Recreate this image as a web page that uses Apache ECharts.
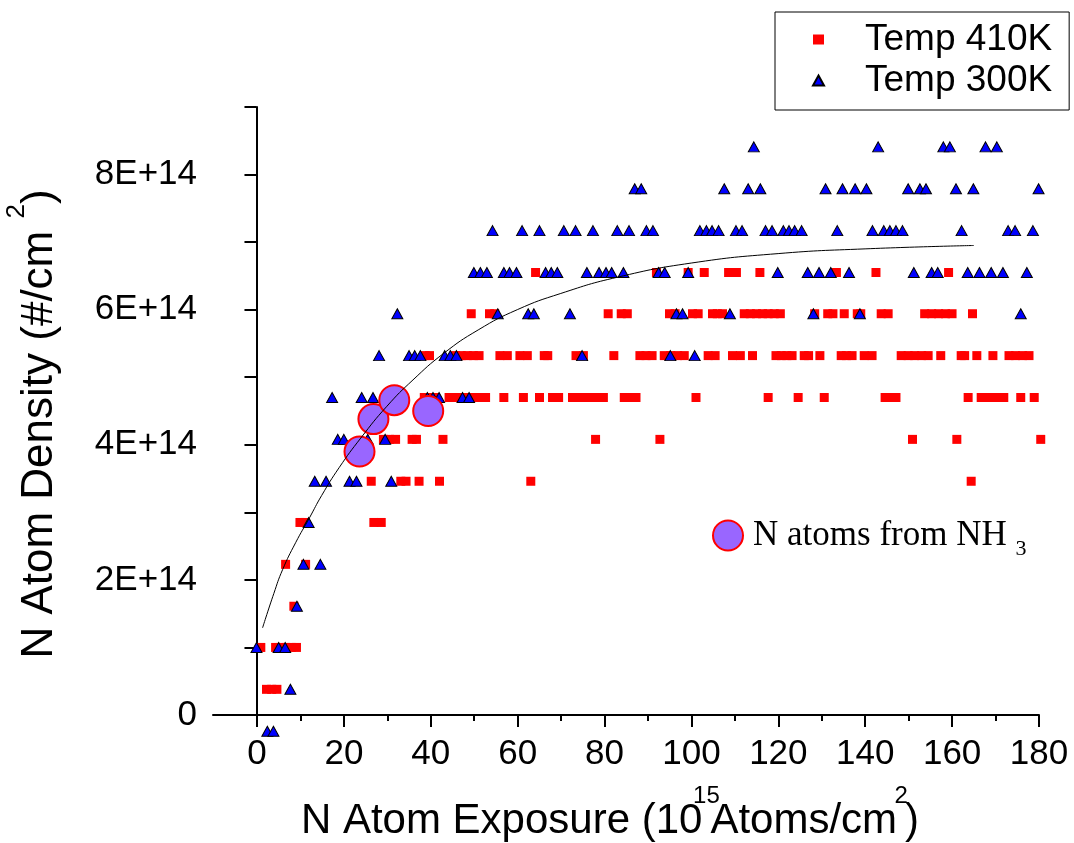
<!DOCTYPE html>
<html>
<head>
<meta charset="utf-8">
<script src="https://cdn.jsdelivr.net/npm/echarts@6/dist/echarts.min.js"></script>
<style>
  html, body { margin: 0; padding: 0; background: #fff; }
  #main { width: 1074px; height: 843px; }
</style>
</head>
<body>
<div id="main"></div>
<script>
// density levels (units of 1E14 #/cm2), the data are quantised on these
var levels = [-0.24, 0.38, 1.00, 1.61, 2.23, 2.85, 3.46, 4.08, 4.70, 5.32, 5.94, 6.55, 7.17, 7.79, 8.41];

// exposure values of the 410K points, one list per level above
var redX = [
    [],
    [2.3, 3.5, 4.7],
    [1.0, 4.4, 5.6, 6.8, 8.0, 9.2],
    [8.6],
    [6.7, 11.3],
    [10.0, 11.2, 27.0, 28.7],
    [26.4, 33.2, 34.4, 37.4, 42.1, 63.1, 164.4],
    [29.2, 30.6, 32.0, 35.8, 36.8, 42.9, 78.0, 92.8, 150.9, 161.1, 180.4],
    [38.6, 39.8, 41.1, 44.3, 45.7, 47.1, 48.5, 49.9, 51.3, 52.7, 56.9, 61.4, 65.1, 68.1, 69.5, 72.7, 74.1, 75.5, 76.9, 78.3, 79.8,
     84.6, 85.9, 87.3, 101.1, 117.7, 124.6, 130.6, 144.6, 145.9, 147.1, 163.7, 166.7, 168.0, 169.3, 170.6, 171.9, 175.8, 178.9],
    [38.8, 39.8, 45.8, 47.1, 48.5, 49.9, 51.2, 56.0, 57.7, 60.6, 62.3, 66.2, 67.0, 73.5, 75.2, 82.2, 88.2, 89.6, 91.0, 93.8, 95.3,
     96.9, 98.4, 103.9, 105.5, 109.5, 111.3, 114.1, 119.5, 120.7, 122.0, 123.2, 126.0, 127.0, 129.6, 134.5, 135.7, 137.0, 139.8,
     141.6, 148.3, 149.9, 151.4, 153.0, 154.5, 157.4, 162.1, 162.9, 165.7, 169.4, 173.1, 174.6, 176.2, 177.7],
    [49.4, 53.6, 54.8, 80.9, 83.9, 85.3, 95.0, 96.3, 100.3, 101.6, 104.9, 106.0, 107.2, 112.2, 113.6, 115.0, 116.4, 117.7, 119.1,
     120.5, 128.4, 131.4, 132.6, 135.2, 138.2, 139.0, 143.7, 145.3, 153.7, 155.3, 156.9, 158.5, 160.0, 164.7],
    [64.2, 92.0, 99.3, 103.0, 108.6, 110.4, 115.8, 133.4, 142.5, 159.2],
    [],
    [],
    []
];

// exposure values of the 300K points, one list per level
var blueX = [
    [2.5, 3.9],
    [7.8],
    [0.0, 5.1, 6.6],
    [9.3],
    [10.8, 14.7],
    [12.0],
    [13.4, 16.0, 21.4, 23.0, 31.0],
    [18.7, 20.1, 25.6, 29.6],
    [17.4, 24.2, 26.8, 39.3, 40.6, 42.0, 47.4, 48.9],
    [28.2, 35.1, 36.4, 37.7, 43.3, 44.6, 46.0, 74.9, 95.2, 100.8],
    [32.4, 55.5, 62.5, 63.8, 72.1, 96.6, 98.0, 108.9, 128.1, 138.8, 175.8],
    [50.0, 51.5, 53.0, 56.9, 58.2, 59.8, 66.5, 67.8, 69.2, 76.0, 78.8, 80.4, 81.7, 84.4, 92.5, 93.9, 99.3, 119.9, 126.8,
     129.4, 132.1, 136.3, 151.2, 155.3, 156.7, 163.6, 166.3, 169.0, 171.7, 177.2],
    [54.3, 61.1, 65.1, 70.7, 73.4, 77.4, 83.0, 85.7, 89.7, 91.2, 102.0, 103.5, 104.8, 106.3, 110.3, 111.7, 117.1, 118.6,
     121.2, 122.5, 123.8, 125.4, 133.6, 141.7, 144.3, 145.7, 147.1, 148.6, 162.2, 172.9, 174.5, 178.6],
    [87.0, 88.5, 107.6, 113.1, 115.9, 130.9, 134.8, 137.7, 140.3, 149.9, 152.6, 154.0, 160.9, 164.9, 179.9],
    [114.4, 143.0, 158.0, 159.5, 167.7, 170.3]
];

// N atoms from NH3
var nh3X = [23.7, 26.9, 31.7, 39.5];
var nh3Y = [3.90, 4.38, 4.66, 4.50];

// fitted curve
var fitX = [1.4, 4, 6, 9, 12.2, 15, 19, 24, 30, 36, 43, 51, 60, 70, 83, 100, 120, 140, 165];
var fitY = [1.29, 1.80, 2.15, 2.55, 2.92, 3.25, 3.66, 4.10, 4.57, 4.96, 5.35, 5.70, 6.00, 6.24, 6.48, 6.69, 6.83, 6.90, 6.95];

var xTicks = [0, 20, 40, 60, 80, 100, 120, 140, 160, 180];

function byLevel(lists) {
    var out = [];
    lists.forEach(function (xs, i) {
        xs.forEach(function (x) { out.push([x, levels[i]]); });
    });
    return out;
}
function pairs(xs, ys) {
    return xs.map(function (x, i) { return [x, ys[i]]; });
}

var SANS = '"Liberation Sans", Arial, sans-serif';
var SERIF = '"Liberation Serif", "Times New Roman", serif';

var myChart = echarts.init(document.getElementById('main'));
var option = {
    animation: false,
    backgroundColor: '#fff',
    grid: [
        { left: 213, right: 35, top: 107, bottom: 128, outerBoundsMode: 'none' },
        { left: 257, right: 35, top: 107, bottom: 128, outerBoundsMode: 'none' }
    ],
    legend: [
        {
            data: ['Temp 410K', 'Temp 300K'],
            orient: 'vertical',
            left: 775,
            top: 12,
            padding: [9, 17, 11, 37],
            itemWidth: 11,
            itemHeight: 10,
            itemGap: 4,
            borderColor: '#000',
            borderWidth: 1,
            selectedMode: false,
            textStyle: { fontFamily: SANS, fontSize: 37, color: '#000', padding: [0, 0, 0, 36] }
        },
        {
            data: ['N atoms from NH3'],
            left: 712,
            top: 518,
            padding: 0,
            itemWidth: 30,
            itemHeight: 30,
            selectedMode: false,
            formatter: function () { return '{a|N atoms from NH }{b|3}'; },
            textStyle: {
                padding: [0, 0, 0, 5],
                rich: {
                    a: { fontFamily: SERIF, fontSize: 35, color: '#000', lineHeight: 40 },
                    b: { fontFamily: SERIF, fontSize: 22, color: '#000', verticalAlign: 'bottom', padding: [28, 0, 0, 0] }
                }
            }
        }
    ],
    xAxis: [
        {
            type: 'value', gridIndex: 0, min: -10, max: 180,
            axisLine: { lineStyle: { color: '#000', width: 2 } },
            axisTick: { show: false },
            axisLabel: { show: false },
            splitLine: { show: false },
            name: '{t|N Atom Exposure (10}{s|15}{t|Atoms/cm}{s|2}{t|)}',
            nameLocation: 'middle',
            nameGap: 69,
            nameTextStyle: {
                padding: [0, 32, 0, 0],
                rich: {
                    t: { fontFamily: SANS, fontSize: 42, color: '#000', padding: [16, 0, 0, 0] },
                    s: { fontFamily: SANS, fontSize: 24, color: '#000', verticalAlign: 'top', width: 8, align: 'center' }
                }
            }
        },
        {
            type: 'value', gridIndex: 1, min: 0, max: 180, interval: 20,
            axisLine: { show: false },
            axisTick: { length: 12, lineStyle: { color: '#000', width: 2 } },
            minorTick: { show: true, splitNumber: 2, length: 6, lineStyle: { color: '#000', width: 2 } },
            axisLabel: {
                margin: 22, fontFamily: SANS, fontSize: 35, color: '#000',
                formatter: function (v) { return xTicks.indexOf(v) >= 0 ? String(v) : ''; }
            },
            splitLine: { show: false }
        }
    ],
    yAxis: [
        {
            type: 'value', gridIndex: 0, min: 0, max: 9, interval: 1,
            axisLine: { lineStyle: { color: '#000', width: 2 } },
            axisTick: { length: 12, lineStyle: { color: '#000', width: 2 } },
            axisLabel: {
                margin: 16, fontFamily: SANS, fontSize: 35, color: '#000',
                formatter: function (v) {
                    if (v === 0) return '0';
                    return (v % 2 === 0 && v < 9) ? v + 'E+14' : '';
                }
            },
            splitLine: { show: false },
            name: '{t|N Atom Density (#/cm }{s|2}{t|)}',
            nameLocation: 'middle',
            nameGap: 151,
            nameTextStyle: {
                padding: [0, 26, 0, 0],
                rich: {
                    t: { fontFamily: SANS, fontSize: 44, color: '#000', padding: [14, 0, 0, 0] },
                    s: { fontFamily: SANS, fontSize: 26, color: '#000', verticalAlign: 'top' }
                }
            }
        },
        { type: 'value', gridIndex: 1, min: 0, max: 9, show: false }
    ],
    series: [
        {
            name: 'Temp 410K', type: 'scatter', xAxisIndex: 0, yAxisIndex: 0,
            symbol: 'rect', symbolSize: 9, clip: false,
            itemStyle: { color: '#ff0000', opacity: 1 },
            data: byLevel(redX)
        },
        {
            name: 'Temp 300K', type: 'scatter', xAxisIndex: 0, yAxisIndex: 0,
            symbol: 'triangle', symbolSize: [11, 10], clip: false,
            itemStyle: { color: '#0000ff', borderColor: '#000', borderWidth: 1, opacity: 1 },
            data: byLevel(blueX)
        },
        {
            name: 'fit', type: 'line', xAxisIndex: 0, yAxisIndex: 0,
            smooth: true, showSymbol: false, silent: true,
            lineStyle: { color: '#000', width: 1 },
            data: pairs(fitX, fitY)
        },
        {
            name: 'N atoms from NH3', type: 'scatter', xAxisIndex: 0, yAxisIndex: 0,
            symbol: 'circle', symbolSize: 30,
            itemStyle: { color: '#9966ff', borderColor: '#ff0000', borderWidth: 2, opacity: 1 },
            data: pairs(nh3X, nh3Y)
        }
    ]
};
myChart.setOption(option);
</script>
</body>
</html>
